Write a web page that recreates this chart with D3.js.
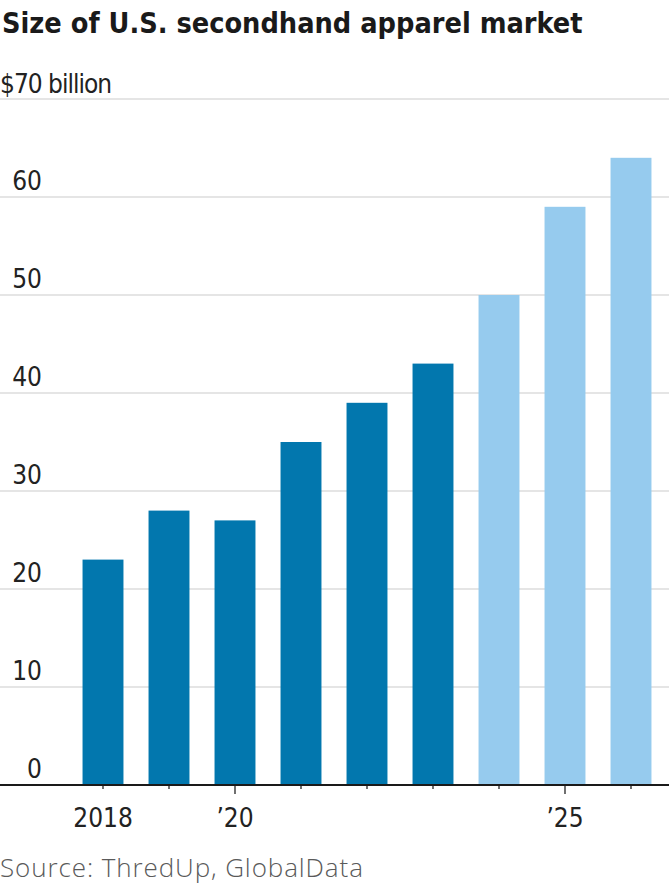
<!DOCTYPE html>
<html>
<head>
<meta charset="utf-8">
<script src="https://cdn.jsdelivr.net/npm/d3@7"></script>
<style>
  html, body { margin: 0; padding: 0; background: #fff; }
  svg { display: block; }
</style>
</head>
<body>
<svg id="chart" width="669" height="892"></svg>
<script>
// ---- data ----
const years = [2018, 2019, 2020, 2021, 2022, 2023, 2024, 2025, 2026];
const values = [23, 28, 27, 35, 39, 43, 50, 59, 64];
const projected = [false, false, false, false, false, false, true, true, true];
const yTicks = [0, 10, 20, 30, 40, 50, 60, 70];
const xLabels = {2018: "2018", 2020: "\u201920", 2025: "\u201925"};
const majorYears = [2020, 2025];
const title = "Size of U.S. secondhand apparel market";
const unitLabel = "$70 billion";
const source = "Source: ThredUp, GlobalData";

const W = 669, H = 892;
const svg = d3.select("#chart");

const x = d3.scaleBand().domain(years).range([70, 664]).paddingInner(0.38).paddingOuter(0.19);
const y = d3.scaleLinear().domain([0, 70]).range([785, 99]);

const narrow = "'DejaVu Sans Condensed', 'Liberation Sans Narrow', sans-serif";

// title
svg.append("text")
  .attr("x", 2).attr("y", 33)
  .attr("font-family", narrow)
  .attr("font-weight", "bold")
  .attr("font-size", 28.6)
  .attr("fill", "#1a1a1a")
  .text(title);

// gridlines
svg.append("g").selectAll("line")
  .data(yTicks.filter(d => d > 0))
  .join("line")
  .attr("x1", 0).attr("x2", W)
  .attr("y1", d => y(d)).attr("y2", d => y(d))
  .attr("stroke", "#dcdcdc").attr("stroke-width", 1.6);

// y labels
svg.append("g").selectAll("text")
  .data(yTicks.filter(d => d < 70))
  .join("text")
  .attr("x", 42).attr("y", d => y(d) - 7)
  .attr("text-anchor", "end")
  .attr("font-family", narrow)
  .attr("font-size", 26)
  .attr("fill", "#222")
  .text(d => d);

svg.append("text")
  .attr("x", 0).attr("y", y(70) - 6)
  .attr("font-family", narrow)
  .attr("font-size", 26)
  .attr("letter-spacing", -1)
  .attr("fill", "#222")
  .text(unitLabel);

// bars
svg.append("g").selectAll("rect")
  .data(years.map((yr, i) => ({yr, v: values[i], p: projected[i]})))
  .join("rect")
  .attr("x", d => x(d.yr))
  .attr("width", x.bandwidth())
  .attr("y", d => y(d.v))
  .attr("height", d => y(0) - y(d.v))
  .attr("fill", d => d.p ? "#96cbee" : "#0277ae");

// x axis
const xAxis = d3.axisBottom(x)
  .tickSize(0)
  .tickFormat(d => xLabels[d] || "");
const gx = svg.append("g").attr("transform", `translate(0,${y(0)})`).call(xAxis);
gx.select(".domain").remove();
gx.selectAll(".tick line")
  .attr("y2", d => majorYears.includes(d) ? 9 : 4)
  .attr("stroke", "#222").attr("stroke-width", 1.3);
gx.selectAll(".tick text")
  .attr("y", 42).attr("dy", 0)
  .attr("font-family", narrow)
  .attr("font-size", 26)
  .attr("fill", "#222");

svg.append("line")
  .attr("x1", 0).attr("x2", W)
  .attr("y1", y(0)).attr("y2", y(0))
  .attr("stroke", "#1a1a1a").attr("stroke-width", 1.8);

// source
svg.append("text")
  .attr("x", 0).attr("y", 877)
  .attr("font-family", "'Open Sans', sans-serif")
  .attr("font-weight", 300)
  .attr("font-size", 26)
  .attr("letter-spacing", 0.9)
  .attr("fill", "#5a5a5a")
  .text(source);
</script>
</body>
</html>
